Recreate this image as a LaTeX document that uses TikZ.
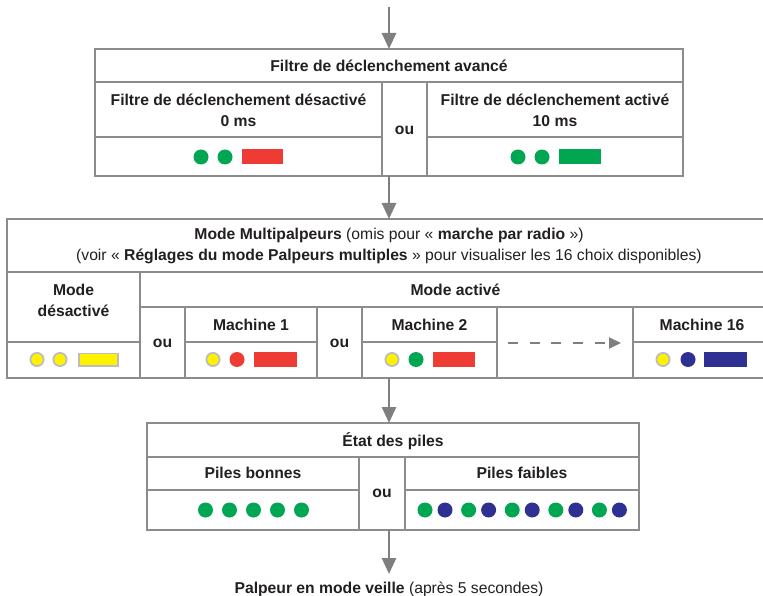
\documentclass[tikz,border=0pt]{standalone}
\usepackage{fontspec}
\setmainfont{Liberation Sans}
\usetikzlibrary{arrows.meta}
\definecolor{dgreen}{HTML}{00A651}
\definecolor{dred}{HTML}{EE3B33}
\definecolor{dblue}{HTML}{2E3192}
\definecolor{dyellow}{HTML}{FFF200}
\definecolor{lineg}{HTML}{8C8C8C}
\definecolor{ringg}{HTML}{BDBDBD}
\definecolor{arrg}{HTML}{7F7F7F}
\definecolor{txtc}{HTML}{231F20}
\begin{document}
\begin{tikzpicture}[x=1pt,y=-1pt,
  frame/.style={draw=lineg, line width=2.6pt, inner sep=0pt, outer sep=0pt},
  div/.style={draw=lineg, line width=1.3pt},
  lbl/.style={font=\fontsize{15.7}{21}\selectfont\bfseries, text=txtc, align=center, inner sep=0pt},
  arr/.style={draw=arrg, line width=2.6pt, -{Triangle[length=16pt,width=14pt]}},
  darr/.style={draw=arrg, line width=2pt, dash pattern=on 10pt off 11.7pt, -{Triangle[length=12pt,width=11pt]}},
  gd/.style={fill=dgreen},
  rd/.style={fill=dred},
  bd/.style={fill=dblue},
  yd/.style={fill=dyellow, draw=ringg, line width=1.8pt}]
\clip (0,0) rectangle (763,596);
% frames
\node[frame, minimum width=588pt, minimum height=127pt] (box1) at (389,112.5) {};
\node[frame, minimum width=764pt, minimum height=159pt] (box2) at (389,298.5) {};
\node[frame, minimum width=492pt, minimum height=107pt] (box3) at (393,476.5) {};
% box 1 dividers
\draw[div] (95,82) -- (683,82);
\draw[div] (382,82) -- (382,176);
\draw[div] (427,82) -- (427,176);
\draw[div] (95,137) -- (382,137);
\draw[div] (427,137) -- (683,137);
% box 2 dividers
\draw[div] (7,272) -- (771,272);
\draw[div] (140,272) -- (140,378);
\draw[div] (140,307) -- (771,307);
\draw[div] (7,342) -- (140,342);
\foreach \x in {185,317,362,497,633} \draw[div] (\x,307) -- (\x,378);
\draw[div] (185,342) -- (317,342);
\draw[div] (362,342) -- (497,342);
\draw[div] (633,342) -- (771,342);
% box 3 dividers
\draw[div] (147,457) -- (639,457);
\draw[div] (359,457) -- (359,530);
\draw[div] (405,457) -- (405,530);
\draw[div] (147,490) -- (359,490);
\draw[div] (405,490) -- (639,490);
% texts box 1
\node[lbl] (t1) at (389,66) {Filtre de déclenchement avancé};
\node[lbl] (t2) at (238.5,110) {Filtre de déclenchement désactivé\\0 ms};
\node[lbl] (t3) at (404.5,130) {ou};
\node[lbl] (t4) at (555,110) {Filtre de déclenchement activé\\10 ms};
% texts box 2
\node[lbl] (t5) at (389,246) {Mode Multipalpeurs {\mdseries (omis pour «~}marche par radio{\mdseries~»)}\\{\mdseries (voir «~}Réglages du mode Palpeurs multiples{\mdseries~» pour visualiser les 16 choix disponibles)}};
\node[lbl] (t6) at (73.5,300) {Mode\\désactivé};
\node[lbl] (t7) at (455.5,290) {Mode activé};
\node[lbl] (t8) at (162.5,343) {ou};
\node[lbl] (t9) at (339.5,343) {ou};
\node[lbl] (t10) at (251,325) {Machine 1};
\node[lbl] (t11) at (429.5,325) {Machine 2};
\node[lbl] (t12) at (702,325) {Machine 16};
% texts box 3
\node[lbl] (t13) at (393,441) {État des piles};
\node[lbl] (t14) at (253,473) {Piles bonnes};
\node[lbl] (t15) at (382,493) {ou};
\node[lbl] (t16) at (522,473) {Piles faibles};
\node[lbl] (final) at (389,589) {Palpeur en mode veille {\mdseries (après 5 secondes)}};
% arrows
\coordinate (in) at (389,7);
\coordinate (out) at (389,574);
\draw[arr] (in) -- (box1.north);
\draw[arr] (box1.south) -- (box2.north);
\draw[arr] (box2.south) -- (box2.south |- box3.north);
\draw[arr] (box3.south -| in) -- (out);
\coordinate (d1) at (508,343);
\coordinate (d2) at (621,343);
\draw[darr] (d1) -- (d2);
% indicators box 1
\path[gd] (201,157) circle (7.5);
\path[gd] (225,157) circle (7.5);
\path[rd] (242,149.5) rectangle (283,164.5);
\path[gd] (518,157) circle (7.5);
\path[gd] (542,157) circle (7.5);
\path[gd] (559,149.5) rectangle (601,164.5);
% indicators box 2
\path[yd] (37,359.5) circle (6.6);
\path[yd] (60,359.5) circle (6.6);
\path[yd] (78.9,353.4) rectangle (118.1,366.1);
\path[yd] (213,359.5) circle (6.6);
\path[rd] (237,359.5) circle (7.5);
\path[rd] (254,352) rectangle (297,367);
\path[yd] (392,359.5) circle (6.6);
\path[gd] (416,359.5) circle (7.5);
\path[rd] (433,352) rectangle (475,367);
\path[yd] (663,359.5) circle (6.6);
\path[bd] (688,359.5) circle (7.5);
\path[bd] (704,352) rectangle (747,367);
% indicators box 3
\foreach \k in {0,...,4} \path[gd] (205.5+24*\k,510) circle (7.5);
\foreach \k in {0,...,4} {
  \path[gd] (425+43.6*\k,510) circle (7.5);
  \path[bd] (445+43.6*\k,510) circle (7.5);
}
\end{tikzpicture}
\end{document}
